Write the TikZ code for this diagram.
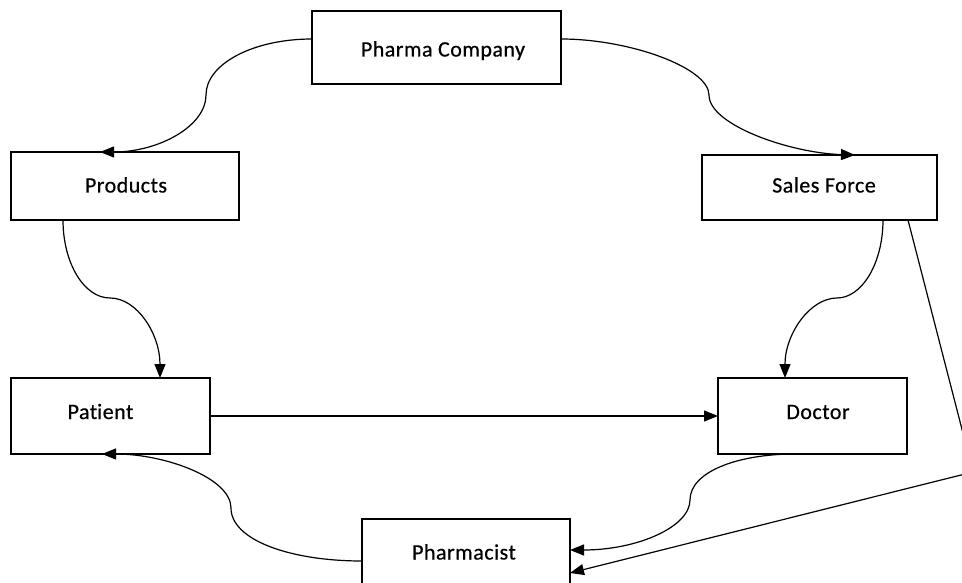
\documentclass[tikz,border=0pt]{standalone}
\usepackage{fontspec}
\setmainfont{Carlito}[LetterSpace=2.2,FakeBold=0.6,Ligatures=NoCommon]
\usetikzlibrary{arrows.meta}
\begin{document}
\begin{tikzpicture}[x=1pt,y=-1pt,
  box/.style={draw=black,line width=1.3pt,rectangle,inner sep=0pt,outer sep=0pt},
  lbl/.style={font=\fontsize{22}{24}\selectfont,anchor=base,inner sep=0pt},
  conn/.style={draw=black,line width=1.2pt,-{Triangle[length=14pt,width=11pt]}}]
\useasboundingbox (0,0) rectangle (962,583);
\clip (0,0) rectangle (962,583);
\fill[white] (0,0) rectangle (962,583);
% boxes
\node[box,minimum width=249pt,minimum height=73pt] (pharma) at (436.5,47.5) {};
\node[box,minimum width=228pt,minimum height=68pt] (products) at (125,186) {};
\node[box,minimum width=235pt,minimum height=65pt] (salesforce) at (819.5,187.5) {};
\node[box,minimum width=199pt,minimum height=76pt] (patient) at (110.5,416) {};
\node[box,minimum width=189pt,minimum height=76pt] (doctor) at (812.5,416) {};
\node[box,minimum width=208pt,minimum height=71pt] (pharmacist) at (466,554.5) {};
% texts
\node[lbl] (tpharma) at (443,56.5) {Pharma Company};
\node[lbl] (tproducts) at (126,192.5) {Products};
\node[lbl] (tsales) at (824,192.5) {Sales Force};
\node[lbl] (tpatient) at (100.5,419) {Pat\kern0pt ient};
\node[lbl] (tdoctor) at (818,419) {Doctor};
\node[lbl] (tpharmacist) at (464,559.5) {Pharmacist};
% connectors
\draw[conn] ([yshift=8.5pt]pharma.west) .. controls (253,39) and (206,64) .. (206,95)
  .. controls (206,126) and (159,152) .. ([xshift=-25pt]products.north);
\draw[conn] ([yshift=8.5pt]pharma.east) .. controls (630,39) and (709,68) .. (709,95)
  .. controls (709,125) and (790,153) .. ([xshift=35.5pt]salesforce.north);
\draw[conn] ([xshift=-62pt]products.south) .. controls (63,263) and (84,298) .. (110,298)
  .. controls (137,298) and (160,334) .. ([xshift=49.5pt]patient.north);
\draw[conn] ([xshift=63.5pt]salesforce.south) .. controls (883,263) and (862,298) .. (837,298)
  .. controls (810,298) and (785,334) .. ([xshift=-27.5pt]doctor.north);
\draw[conn] (patient.east) -- (doctor.west);
\draw[conn] ([xshift=-17.5pt]doctor.south) .. controls (737,454) and (690,472) .. (690,500)
  .. controls (690,527) and (637,550) .. ([yshift=4.5pt]pharmacist.east);
\draw[conn] ([yshift=-6.5pt]pharmacist.west) .. controls (290,561) and (231,540) .. (231,508)
  .. controls (231,478) and (165,454) .. ([xshift=-8.5pt]patient.south);
\coordinate (bend) at (973,472);
\draw[conn] ([xshift=88.5pt]salesforce.south) -- (bend) -- ([yshift=-18.5pt]pharmacist.east);
\end{tikzpicture}
\end{document}
